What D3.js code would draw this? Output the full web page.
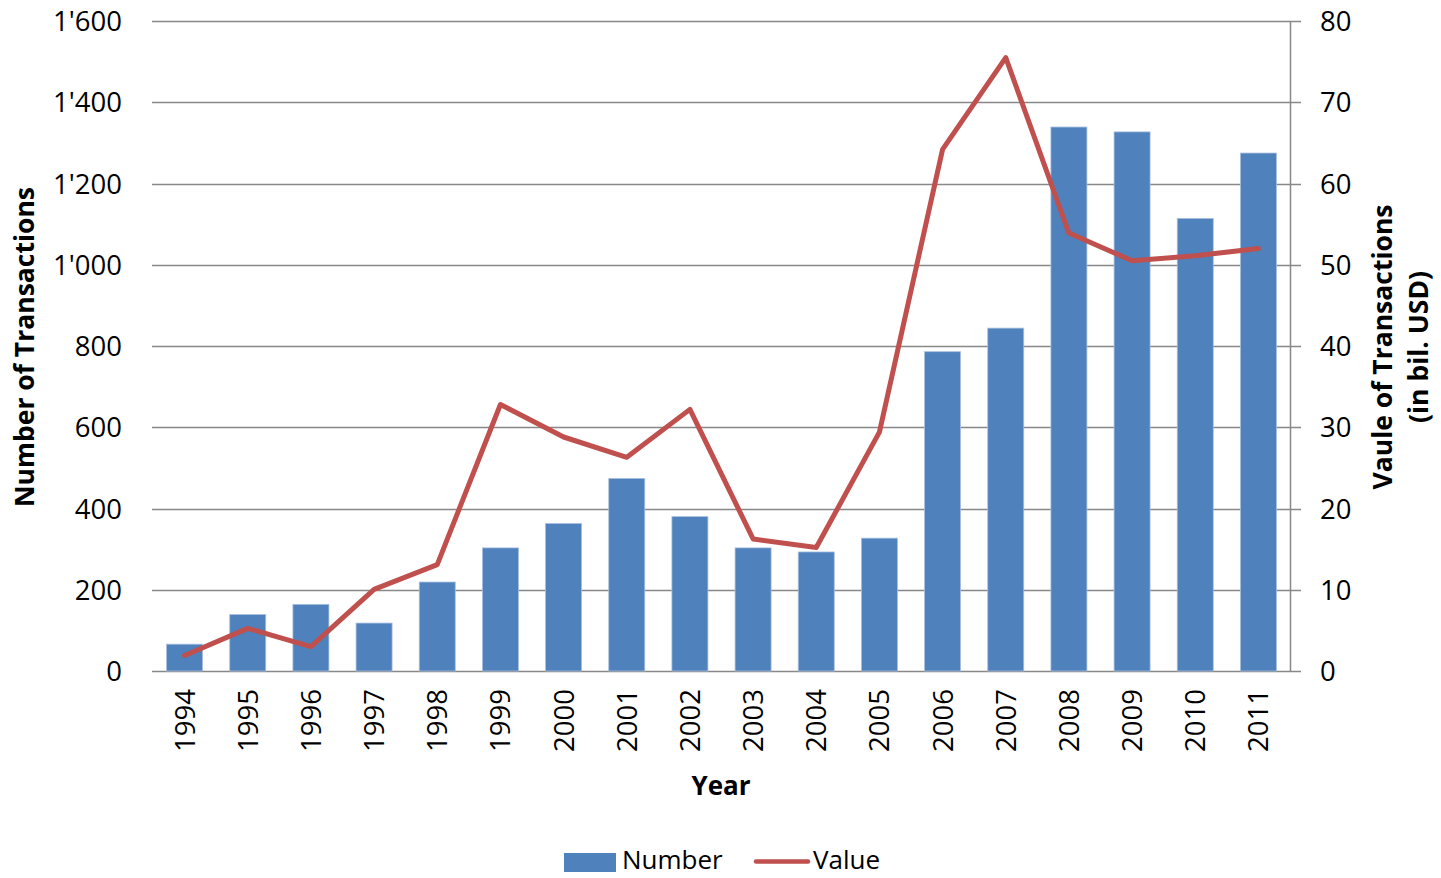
<!DOCTYPE html>
<html>
<head>
<meta charset="utf-8">
<script src="https://cdn.jsdelivr.net/npm/d3@7"></script>
<style>
  body { margin: 0; background: #fff; }
  text { font-family: "Open Sans", "Noto Sans", sans-serif; fill: #000; }
</style>
</head>
<body>
<div id="chart-area"></div>
<script>
// data
var years = ["1994", "1995", "1996", "1997", "1998", "1999", "2000", "2001", "2002",
             "2003", "2004", "2005", "2006", "2007", "2008", "2009", "2010", "2011"];
var numberOfTransactions = [66, 139, 164, 118, 219, 303, 363, 474, 380,
                            303, 293, 327, 786, 844, 1339, 1327, 1114, 1275];
var valueOfTransactions = [1.9, 5.25, 3.0, 10.05, 13.1, 32.8, 28.8, 26.3, 32.2,
                           16.25, 15.2, 29.4, 64.2, 75.5, 53.9, 50.5, 51.1, 52.0];
var leftTicks = [0, 200, 400, 600, 800, 1000, 1200, 1400, 1600];
var rightTicks = [0, 10, 20, 30, 40, 50, 60, 70, 80];

var width = 1441, height = 878;
// plot area (note: "top" is taken by window.top, so prefix these)
var plotLeft = 153, plotRight = 1290, plotTop = 21, plotBottom = 671;

var svg = d3.select("#chart-area")
  .append("svg")
    .attr("width", width)
    .attr("height", height);

var x = d3.scaleBand()
  .domain(years)
  .range([plotLeft, plotRight])
  .paddingInner(0.43)
  .paddingOuter(0.215);

var yLeft = d3.scaleLinear().domain([0, 1600]).range([plotBottom, plotTop]);
var yRight = d3.scaleLinear().domain([0, 80]).range([plotBottom, plotTop]);

var fmt = function(d) {
  // swiss style thousands separator
  return d3.format(",")(d).replace(",", "'");
};

// gridlines
svg.append("g")
  .selectAll("line")
  .data(leftTicks)
  .enter()
  .append("line")
    .attr("x1", plotLeft - 1)
    .attr("x2", plotRight + 11)
    .attr("y1", function(d) { return Math.round(yLeft(d)) + 0.5; })
    .attr("y2", function(d) { return Math.round(yLeft(d)) + 0.5; })
    .attr("stroke", "#888")
    .attr("stroke-width", 1.5);

// right axis line
svg.append("line")
  .attr("x1", plotRight + 0.5).attr("x2", plotRight + 0.5)
  .attr("y1", plotTop).attr("y2", plotBottom)
  .attr("stroke", "#888")
  .attr("stroke-width", 1.5);

// bars
svg.append("g")
  .selectAll("rect")
  .data(numberOfTransactions)
  .enter()
  .append("rect")
    .attr("x", function(d, i) { return x(years[i]); })
    .attr("y", function(d) { return yLeft(d); })
    .attr("width", x.bandwidth())
    .attr("height", function(d) { return plotBottom - yLeft(d); })
    .attr("fill", "#4F81BD")
    .attr("stroke", "#A7BFDE")
    .attr("stroke-width", 0.8);

// value line
var line = d3.line()
  .x(function(d, i) { return x(years[i]) + x.bandwidth() / 2; })
  .y(function(d) { return yRight(d); });

svg.append("path")
  .datum(valueOfTransactions)
  .attr("d", line)
  .attr("fill", "none")
  .attr("stroke", "#C0504D")
  .attr("stroke-width", 5)
  .attr("stroke-linejoin", "round")
  .attr("stroke-linecap", "round");

// left tick labels
svg.append("g")
  .selectAll("text")
  .data(leftTicks)
  .enter()
  .append("text")
    .attr("x", 122)
    .attr("y", function(d) { return yLeft(d) + 10; })
    .attr("text-anchor", "end")
    .attr("font-size", 27.5)
    .text(fmt);

// right tick labels
svg.append("g")
  .selectAll("text")
  .data(rightTicks)
  .enter()
  .append("text")
    .attr("x", 1320)
    .attr("y", function(d) { return yRight(d) + 10; })
    .attr("text-anchor", "start")
    .attr("font-size", 27.5)
    .text(function(d) { return d; });

// year labels
svg.append("g")
  .selectAll("text")
  .data(years)
  .enter()
  .append("text")
    .attr("transform", function(d) {
      return "translate(" + (x(d) + x.bandwidth() / 2 + 10) + ",689) rotate(-90)";
    })
    .attr("text-anchor", "end")
    .attr("font-size", 27.5)
    .text(function(d) { return d; });

// axis titles
svg.append("text")
  .attr("x", 721).attr("y", 795)
  .attr("text-anchor", "middle")
  .attr("font-size", 26)
  .attr("font-weight", "bold")
  .text("Year");

svg.append("text")
  .attr("transform", "translate(34,347) rotate(-90)")
  .attr("text-anchor", "middle")
  .attr("font-size", 26.5)
  .attr("font-weight", "bold")
  .text("Number of Transactions");

svg.append("text")
  .attr("transform", "translate(1392,347) rotate(-90)")
  .attr("text-anchor", "middle")
  .attr("font-size", 26.5)
  .attr("font-weight", "bold")
  .text("Vaule of Transactions");

svg.append("text")
  .attr("transform", "translate(1428,347) rotate(-90)")
  .attr("text-anchor", "middle")
  .attr("font-size", 26.5)
  .attr("font-weight", "bold")
  .text("(in bil. USD)");

// legend
var legend = svg.append("g");
legend.append("rect")
  .attr("x", 564).attr("y", 853)
  .attr("width", 52).attr("height", 19)
  .attr("fill", "#4F81BD");
legend.append("text")
  .attr("x", 622).attr("y", 869)
  .attr("font-size", 26)
  .text("Number");
legend.append("line")
  .attr("x1", 756).attr("x2", 808)
  .attr("y1", 861.5).attr("y2", 861.5)
  .attr("stroke", "#C0504D")
  .attr("stroke-width", 4.5)
  .attr("stroke-linecap", "round");
legend.append("text")
  .attr("x", 813).attr("y", 869)
  .attr("font-size", 26)
  .text("Value");
</script>
</body>
</html>
